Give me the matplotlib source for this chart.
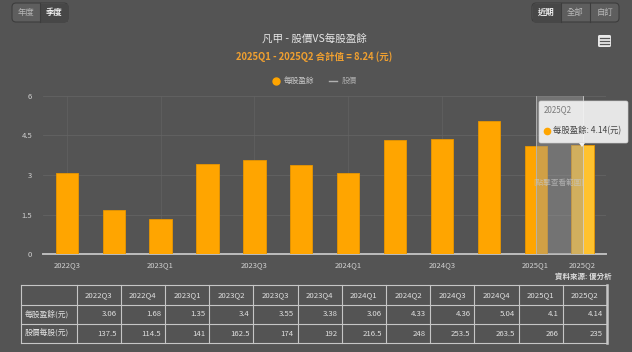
import matplotlib
matplotlib.use('Agg')
import matplotlib.pyplot as plt
from matplotlib.patches import FancyBboxPatch, Rectangle, Polygon

plt.rcParams['font.family'] = ['Noto Sans CJK TC', 'DejaVu Sans']

quarters = ['2022Q3', '2022Q4', '2023Q1', '2023Q2', '2023Q3', '2023Q4',
            '2024Q1', '2024Q2', '2024Q3', '2024Q4', '2025Q1', '2025Q2']
eps = [3.06, 1.68, 1.35, 3.4, 3.55, 3.38, 3.06, 4.33, 4.36, 5.04, 4.1, 4.14]
price = [137.5, 114.5, 141, 162.5, 174, 192, 216.5, 248, 253.5, 263.5, 266, 235]
yticks = [0, 1.5, 3, 4.5, 6]
eps_labels = ['3.06', '1.68', '1.35', '3.4', '3.55', '3.38', '3.06', '4.33', '4.36', '5.04', '4.1', '4.14']
price_labels = ['137.5', '114.5', '141', '162.5', '174', '192', '216.5', '248', '253.5', '263.5', '266', '235']

W, H = 632, 352
bg = '#545454'
txt = '#d0d0d0'
orange = '#FFA500'

fig = plt.figure(figsize=(W / 100, H / 100), dpi=100, facecolor=bg)

def box(x0, y0, x1, y1):
    return [x0 / W, 1 - y1 / H, (x1 - x0) / W, (y1 - y0) / H]

# main chart
ax = fig.add_axes(box(43.4, 95.7, 606, 254.3))
ax.set_facecolor(bg)
xs = list(range(len(quarters)))
cols = [orange] * (len(quarters) - 1) + ['#FFC22E']
ax.bar(xs, eps, width=0.475, color=cols, edgecolor='#E89600', linewidth=0.6, zorder=3)
ax.set_xlim(-0.5, len(quarters) - 0.5)
ax.set_ylim(0, 6)
ax.set_yticks(yticks)
ax.set_yticklabels(['0', '1.5', '3', '4.5', '6'])
tick_idx = [0, 2, 4, 6, 8, 10, 11]
ax.set_xticks(tick_idx)
ax.set_xticklabels([quarters[i] for i in tick_idx])
ax.tick_params(axis='both', length=0, colors=txt, labelsize=5.5, pad=5)
ax.tick_params(axis='y', pad=8)
ax.grid(True, axis='y', color='#636363', linewidth=0.6, zorder=0)
ax.grid(True, axis='x', color='#5f5f5f', linewidth=0.6, zorder=0)
for s in ['top', 'right', 'left']:
    ax.spines[s].set_visible(False)
ax.spines['bottom'].set_color('#bdbdbd')
ax.spines['bottom'].set_linewidth(1.4)

# selected range band and crosshair
ax.axvspan(10, 11, color='#9a9a9a', alpha=0.45, zorder=4, lw=0)
ax.axvline(10, color='#b5b5b5', lw=0.6, zorder=4)
ax.axvline(11, color='#cfcfcf', lw=0.6, zorder=5)
ax.text(10.5, 2.7, '[點擊查看範圍]', color='#c8c8c8', alpha=0.7, fontsize=5.5,
        ha='center', va='center', zorder=6)

# overlay in pixel coordinates
ov = fig.add_axes([0, 0, 1, 1], zorder=10)
ov.set_xlim(0, W)
ov.set_ylim(H, 0)
ov.axis('off')
ov.patch.set_alpha(0)

# buttons
def buttons(x0, y0, widths, labels, active):
    total = sum(widths)
    ov.add_patch(FancyBboxPatch((x0, y0), total, 19, boxstyle='round,pad=0,rounding_size=4',
                                fc='#5e5e5e', ec='#3d3d3d', lw=0.8))
    x = x0
    for i, (w, lab) in enumerate(zip(widths, labels)):
        if i == active:
            ov.add_patch(Rectangle((x + 0.5, y0 + 0.5), w - 1, 18, fc='#474747', ec='none'))
        if i > 0:
            ov.plot([x, x], [y0, y0 + 19], color='#3d3d3d', lw=0.8)
        ov.text(x + w / 2, y0 + 9.5, lab, color='#f0f0f0' if i == active else '#b8b8b8',
                fontsize=6, ha='center', va='center',
                weight='bold' if i == active else 'normal')
        x += w

buttons(12, 3, [28, 28], ['年度', '季度'], 1)
buttons(532, 3, [29, 29, 29], ['近期', '全部', '自訂'], 0)

# hamburger icon
ov.add_patch(FancyBboxPatch((598, 35), 13, 12, boxstyle='round,pad=0,rounding_size=1.5',
                            fc='#e8e8e8', ec='none'))
for yy in [38, 41, 44]:
    ov.plot([600, 609], [yy, yy], color='#555555', lw=0.9)

# titles
ov.text(314, 40, '凡甲 - 股價VS每股盈餘', color='#e6e6e6', fontsize=7.6, ha='center',
        va='center', weight='medium')
ov.text(314, 57, '2025Q1 - 2025Q2 合計值 = 8.24 (元)', color='#F0A030', fontsize=6.8,
        ha='center', va='center', weight='bold')

# legend
ov.plot([276], [81], 'o', color=orange, ms=5)
ov.text(284, 81, '每股盈餘', color='#c8c8c8', fontsize=5.5, ha='left', va='center')
ov.plot([329, 337], [81, 81], color='#b0b0b0', lw=1)
ov.text(342, 81, '股價', color='#a8a8a8', fontsize=5.5, ha='left', va='center')

# tooltip
ov.add_patch(FancyBboxPatch((539, 101), 89, 42, boxstyle='round,pad=0,rounding_size=2',
                            fc='#f2f2f2', ec='#cfcfcf', lw=0.5, alpha=0.93))
ov.add_patch(Polygon([[579, 143], [585, 143], [582, 147]], closed=True, fc='#f2f2f2', ec='none'))
ov.text(544, 110, '2025Q2', color='#7a7a7a', fontsize=5.8, ha='left', va='center')
ov.plot([547], [131], 'o', color=orange, ms=4.5)
ov.text(553, 131, '每股盈餘: 4.14(元)', color='#444444', fontsize=6, ha='left', va='center')

# source
ov.text(612, 276, '資料來源: 優分析', color='#dddddd', fontsize=5.4, ha='right', va='center',
        weight='bold')

# table
tx0, tx1 = 21, 607
c0 = 76.5
cw = (tx1 - c0) / len(quarters)
rows_y = [285, 305, 324, 343]
lc = '#c6c6c6'
for yy in rows_y:
    ov.plot([tx0, tx1], [yy, yy], color=lc, lw=0.8)
ov.plot([tx0, tx0], [rows_y[0], rows_y[-1]], color=lc, lw=0.8)
ov.plot([c0, c0], [rows_y[0], rows_y[-1]], color=lc, lw=0.8)
for i in range(len(quarters)):
    xr = c0 + (i + 1) * cw
    ov.plot([xr, xr], [rows_y[0], rows_y[-1]], color=lc, lw=0.8 if i < len(quarters) - 1 else 1.8)
    xc = c0 + (i + 0.5) * cw
    ov.text(xc, (rows_y[0] + rows_y[1]) / 2, quarters[i], color='#e0e0e0', fontsize=5.6,
            ha='center', va='center')
    ov.text(xr - 4, (rows_y[1] + rows_y[2]) / 2, eps_labels[i], color='#e0e0e0', fontsize=5.6,
            ha='right', va='center')
    ov.text(xr - 4, (rows_y[2] + rows_y[3]) / 2, price_labels[i], color='#e0e0e0', fontsize=5.6,
            ha='right', va='center')
ov.text(tx0 + 4, (rows_y[1] + rows_y[2]) / 2, '每股盈餘(元)', color='#e0e0e0', fontsize=5.6,
        ha='left', va='center')
ov.text(tx0 + 4, (rows_y[2] + rows_y[3]) / 2, '股價每股(元)', color='#e0e0e0', fontsize=5.6,
        ha='left', va='center')

fig.savefig('out.png', dpi=100, facecolor=bg)
